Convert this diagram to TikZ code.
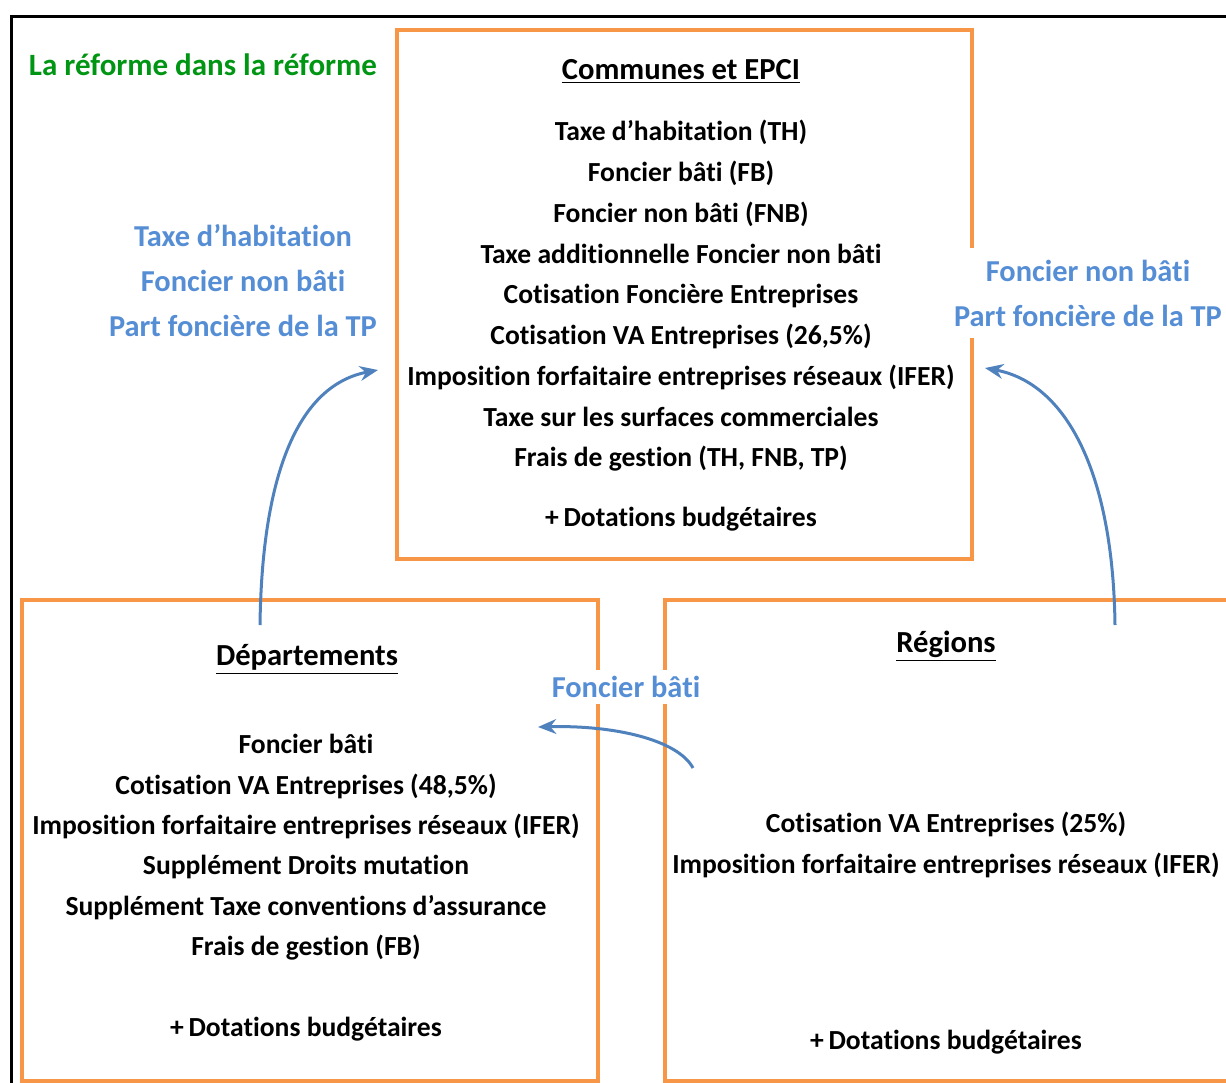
\documentclass[tikz,border=0pt]{standalone}
\usepackage{fontspec}
\setmainfont{Carlito}[Ligatures=NoCommon]
\usetikzlibrary{arrows.meta,calc}
\definecolor{boxorange}{RGB}{247,150,70}
\definecolor{flowblue}{RGB}{79,129,189}
\definecolor{labelblue}{RGB}{85,142,213}
\definecolor{titlegreen}{RGB}{0,150,20}
\tikzset{
  levelbox/.style={draw=boxorange, line width=2pt, inner sep=0pt},
  item/.style={font=\fontsize{13.8}{16}\selectfont\bfseries, inner sep=0pt, anchor=mid, yshift=-2.5pt},
  boxtitle/.style={item, font=\fontsize{15.3}{17}\selectfont\bfseries},
  flowlbl/.style={align=center, font=\fontsize{15.2}{22.5}\selectfont\bfseries, text=labelblue,
                  fill=white, inner sep=6pt},
  flow/.style={-{Stealth[length=3.2mm,width=2.6mm]}, line width=1.5pt, flowblue}
}
\begin{document}
\begin{tikzpicture}[x=0.5pt, y=-0.5pt]
\useasboundingbox (0,0) rectangle (1226,1082);
% cadre
\draw[line width=1.5pt] (11,1090) -- (11,16) -- (1235,16);
\node[item, font=\fontsize{15.5}{18}\selectfont\bfseries, text=titlegreen] (titre) at (203,66) {La réforme dans la réforme};

% trois niveaux
\node[levelbox, minimum width=287.5pt, minimum height=264.5pt, anchor=north west] (com) at (395,28) {};
\node[levelbox, minimum width=288pt, minimum height=240.5pt, anchor=north west] (dep) at (20,598) {};
\node[levelbox, minimum width=300pt, minimum height=240.5pt, anchor=north west] (reg) at (663,598) {};

% communes et EPCI
\node[boxtitle] (comt) at (681,70) {\underline{Communes et EPCI}};
\foreach \txt [count=\i] in {Taxe d’habitation (TH), Foncier bâti (FB), Foncier non bâti (FNB),
    Taxe additionnelle Foncier non bâti, Cotisation Foncière Entreprises,
    {Cotisation VA Entreprises (26,5\%)}, Imposition forfaitaire entreprises réseaux (IFER),
    Taxe sur les surfaces commerciales, {Frais de gestion (TH, FNB, TP)}}
  \node[item] (com\i) at (681,{131+(\i-1)*40.75}) {\txt};
\node[item] (comd) at (681,517) {+\,Dotations budgétaires};

% departements
\node[boxtitle] (dept) at (307,656) {\underline{Départements}};
\foreach \txt [count=\i] in {Foncier bâti, {Cotisation VA Entreprises (48,5\%)},
    Imposition forfaitaire entreprises réseaux (IFER), Supplément Droits mutation,
    Supplément Taxe conventions d’assurance, Frais de gestion (FB)}
  \node[item] (dep\i) at (306,{744+(\i-1)*40.4}) {\txt};
\node[item] (depd) at (306,1027) {+\,Dotations budgétaires};

% regions
\node[boxtitle] (regt) at (946,643) {\underline{Régions}};
\node[item] (reg1) at (946,823) {Cotisation VA Entreprises (25\%)};
\node[item] (reg2) at (946,864) {Imposition forfaitaire entreprises réseaux (IFER)};
\node[item] (regd) at (946,1040) {+\,Dotations budgétaires};

% transferts
\coordinate (depout) at (260,625);
\coordinate (comin) at (378,370);
\coordinate (regout) at (1115,625);
\coordinate (comin2) at (985,368);
\coordinate (regout2) at (693,768);
\coordinate (depin) at (538,727);
\draw[flow] (depout) .. controls (262,470) and (300,385) .. (comin);
\draw[flow] (regout) .. controls (1113,470) and (1065,383) .. (comin2);
\draw[flow] (regout2) .. controls (678,740) and (615,725) .. (depin);

\node[flowlbl] (lblg) at (243,281) {Taxe d’habitation\\Foncier non bâti\\Part foncière de la TP};
\node[flowlbl] (lbld) at (1088,293) {Foncier non bâti\\Part foncière de la TP};
\node[flowlbl, inner sep=3pt] (lblb) at (626,687) {Foncier bâti};
\end{tikzpicture}
\end{document}
